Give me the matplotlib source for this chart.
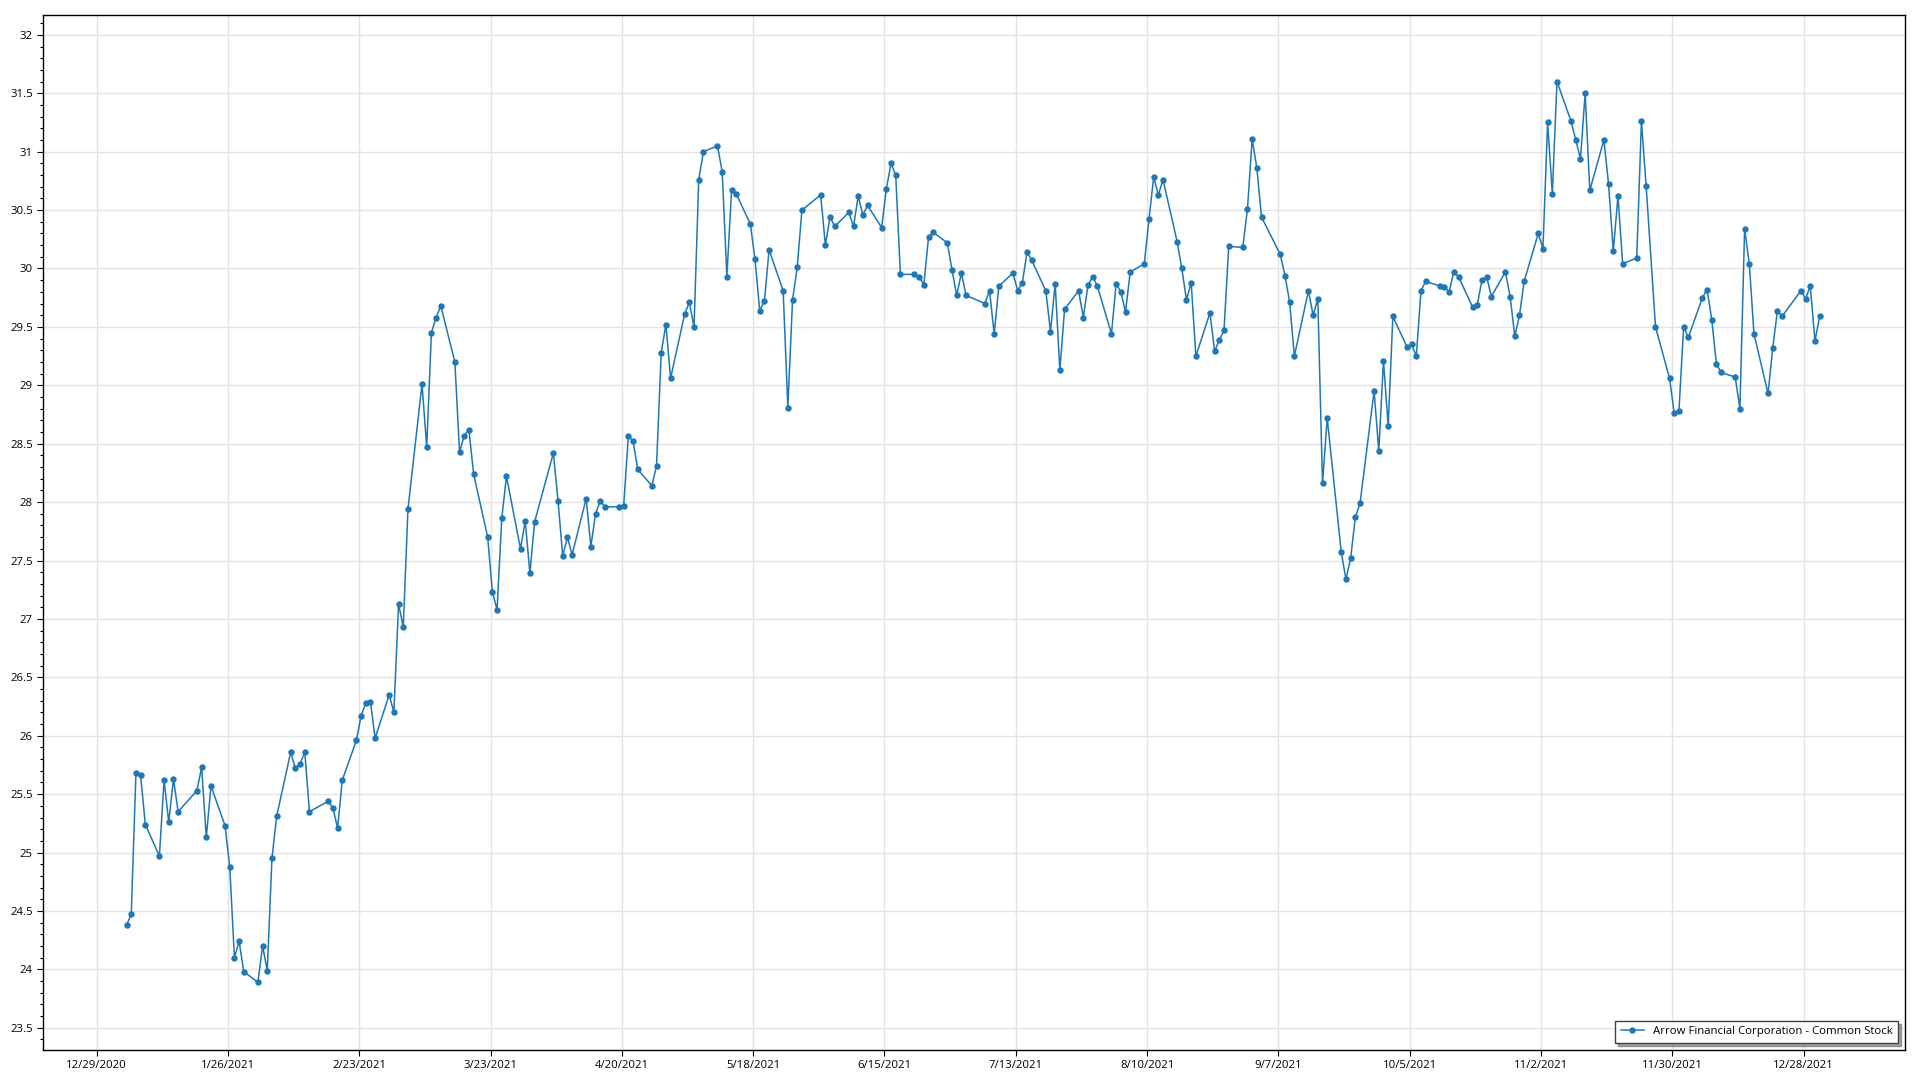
import matplotlib
matplotlib.use("Agg")
import matplotlib.pyplot as plt
from matplotlib.ticker import MultipleLocator, FuncFormatter, FixedLocator
import matplotlib.dates as mdates
import pandas as pd

plt.rcParams['font.family'] = ['Open Sans', 'DejaVu Sans']

# NYSE holidays 2021 (trading days only are plotted)
holidays = ['2021-01-18', '2021-02-15', '2021-04-02', '2021-05-31',
            '2021-07-05', '2021-09-06', '2021-11-25', '2021-12-24']
# quotes are stamped during the trading day, not at midnight
dates = pd.bdate_range('2021-01-04', '2021-12-31', freq='C', holidays=holidays) \
    + pd.Timedelta(hours=9.5)

jan = [24.38, 24.47, 25.68, 25.66, 25.24, 24.97, 25.62, 25.26, 25.63, 25.35,
       25.53, 25.73, 25.13, 25.57, 25.23, 24.88, 24.10, 24.24, 23.98]
feb = [23.89, 24.20, 23.99, 24.95, 25.31, 25.86, 25.72, 25.76, 25.86, 25.35,
       25.44, 25.38, 25.21, 25.62, 25.96, 26.17, 26.28, 26.29, 25.98]
mar = [26.35, 26.20, 27.13, 26.93, 27.94, 29.01, 28.47, 29.45, 29.58, 29.68,
       29.20, 28.43, 28.57, 28.62, 28.24, 27.70, 27.23, 27.08, 27.86, 28.22,
       27.60, 27.84, 27.39]
apr = [27.83, 28.42, 28.01, 27.54, 27.70, 27.55, 28.03, 27.62, 27.90, 28.01,
       27.96, 27.96, 27.97, 28.57, 28.52, 28.28, 28.14, 28.31, 29.28, 29.52,
       29.06]
may = [29.61, 29.71, 29.50, 30.76, 31.00, 31.05, 30.83, 29.93, 30.67, 30.64,
       30.38, 30.08, 29.64, 29.72, 30.16, 29.81, 28.81, 29.73, 30.01, 30.50]
jun = [30.63, 30.20, 30.44, 30.36, 30.48, 30.36, 30.62, 30.46, 30.54, 30.35,
       30.68, 30.90, 30.80, 29.95, 29.95, 29.93, 29.86, 30.27, 30.31, 30.22,
       29.99, 29.77]
jul = [29.96, 29.77, 29.70, 29.81, 29.44, 29.85, 29.96, 29.81, 29.88, 30.14,
       30.07, 29.81, 29.46, 29.87, 29.13, 29.65, 29.81, 29.58, 29.86, 29.93,
       29.85]
aug = [29.44, 29.87, 29.80, 29.63, 29.97, 30.04, 30.42, 30.78, 30.63, 30.76,
       30.23, 30.00, 29.73, 29.88, 29.25, 29.62, 29.29, 29.39, 29.47, 30.19,
       30.18, 30.51]
sep = [31.11, 30.86, 30.44, 30.12, 29.94, 29.71, 29.25, 29.81, 29.60, 29.74,
       28.16, 28.72, 27.57, 27.34, 27.52, 27.87, 27.99, 28.95, 28.44, 29.21,
       28.65]
oct_ = [29.59, 29.33, 29.35, 29.25, 29.81, 29.89, 29.85, 29.84, 29.80, 29.97,
        29.93, 29.67, 29.69, 29.90, 29.93, 29.76, 29.97, 29.76, 29.42, 29.60,
        29.89]
nov = [30.30, 30.17, 31.25, 30.64, 31.60, 31.26, 31.10, 30.94, 31.50, 30.67,
       31.10, 30.72, 30.15, 30.62, 30.04, 30.09, 31.26, 30.71, 29.50, 29.06,
       28.76]
dec = [28.78, 29.50, 29.41, 29.75, 29.82, 29.56, 29.18, 29.11, 29.07, 28.80,
       30.34, 30.04, 29.44, 28.93, 29.32, 29.64, 29.59, 29.81, 29.74, 29.85,
       29.38, 29.59]

prices = jan + feb + mar + apr + may + jun + jul + aug + sep + oct_ + nov + dec
series_name = "Arrow Financial Corporation - Common Stock"

xticks = pd.date_range('2020-12-29', periods=14, freq='28D')

fig = plt.figure(figsize=(19.2, 10.8), dpi=100)
ax = fig.add_axes([0.0222, 0.0278, 0.970, 0.9583])

ax.plot(dates, prices, color='#1f77b4', lw=1.1, marker='o', markersize=3.6,
        label=series_name)

ax.set_xlim(pd.Timestamp('2020-12-29') - pd.Timedelta(days=11.5),
            pd.Timestamp('2020-12-29') + pd.Timedelta(days=385.6))
ax.set_ylim(23.31, 32.17)

ax.xaxis.set_major_locator(FixedLocator(mdates.date2num(xticks)))
ax.xaxis.set_major_formatter(FuncFormatter(
    lambda v, _: (lambda d: f"{d.month}/{d.day}/{d.year}")(mdates.num2date(v))))
ax.yaxis.set_major_locator(MultipleLocator(0.5))
ax.yaxis.set_minor_locator(MultipleLocator(0.1))
ax.yaxis.set_major_formatter(FuncFormatter(lambda v, _: f"{v:g}"))

ax.grid(True, which='major', color='#e3e3e3', lw=1.0)
ax.set_axisbelow(True)
ax.tick_params(axis='both', which='major', direction='out', length=4,
               width=0.8, labelsize=8.2, colors='black', pad=3)
ax.tick_params(axis='y', which='minor', direction='out', length=2.2, width=0.8)
for s in ax.spines.values():
    s.set_linewidth(1.0)
    s.set_color('black')

leg = ax.legend(loc='lower right', frameon=True, fancybox=False, shadow=True,
                edgecolor='#404040', framealpha=1, fontsize=8.2,
                borderaxespad=0.6, handlelength=2.0, borderpad=0.5)
leg.get_frame().set_linewidth(1.0)

fig.savefig('out.png', dpi=100)
